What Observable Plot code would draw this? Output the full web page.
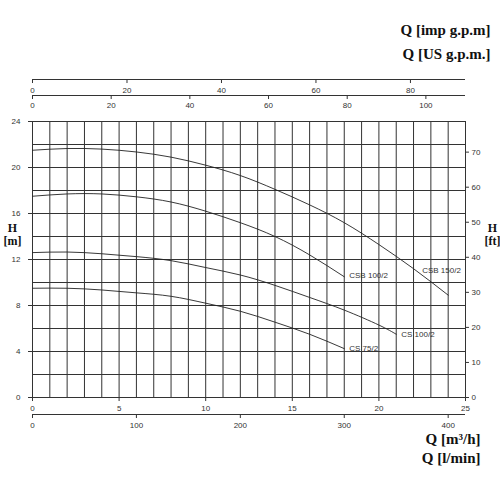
<!DOCTYPE html>
<html>
<head>
<meta charset="utf-8">
<script src="https://cdn.jsdelivr.net/npm/d3@7"></script>
<script src="https://cdn.jsdelivr.net/npm/@observablehq/plot@0.6"></script>
<style>
  html, body { margin: 0; padding: 0; background: #fff; }
</style>
</head>
<body>
<div id="chart"></div>
<script>
// ---- data (Q in m³/h, H in m) ----
const csb150Q = [0, 2, 4, 6, 8, 10, 12, 14, 16, 18, 20, 22, 24];
const csb150H = [21.5, 21.65, 21.6, 21.35, 20.9, 20.2, 19.3, 18.1, 16.75, 15.2, 13.3, 11.2, 8.9];
const csb100Q = [0, 2, 4, 6, 8, 10, 12, 14, 16, 18];
const csb100H = [17.5, 17.7, 17.7, 17.45, 17.0, 16.2, 15.2, 14.0, 12.4, 10.5];
const cs100Q = [0, 2, 4, 6, 8, 10, 12, 14, 16, 18, 20, 21];
const cs100H = [12.6, 12.65, 12.5, 12.25, 11.9, 11.3, 10.65, 9.75, 8.7, 7.6, 6.3, 5.5];
const cs75Q = [0, 2, 4, 6, 8, 10, 12, 14, 16, 18];
const cs75H = [9.5, 9.5, 9.35, 9.1, 8.8, 8.2, 7.5, 6.55, 5.5, 4.25];
const seriesNames = ["CSB 150/2", "CSB 100/2", "CS 100/2", "CS 75/2"];

// ---- ticks ----
const hTicks = [0, 4, 8, 12, 16, 20, 24];
const ftTicks = [0, 10, 20, 30, 40, 50, 60, 70];
const m3hTicks = [0, 5, 10, 15, 20, 25];
const lminTicks = [0, 100, 200, 300, 400];
const impTicks = [0, 20, 40, 60, 80];
const usTicks = [0, 20, 40, 60, 80, 100];
const gridQ = d3.range(0, 26, 1);
const gridH = d3.range(0, 25, 2);

// unit conversions
const FT_PER_M = 3.28084;
const LMIN_PER_M3H = 1000 / 60;
const IMP_PER_M3H = 219.969 / 60;
const US_PER_M3H = 264.172 / 60;

const seriesQ = [csb150Q, csb100Q, cs100Q, cs75Q];
const seriesH = [csb150H, csb100H, cs100H, cs75H];
const points = seriesNames.flatMap((name, i) =>
  seriesQ[i].map((q, j) => ({name, q, h: seriesH[i][j]})));
const ends = seriesNames.map((name, i) => ({
  name, q: seriesQ[i][seriesQ[i].length - 1], h: seriesH[i][seriesH[i].length - 1]
}));
const labelOffset = {
  "CSB 150/2": [-26, -25], "CSB 100/2": [5, -1], "CS 100/2": [5, 0], "CS 75/2": [5, 0]
};

const axisColor = "#333";
const tickFont = {fontSize: 8, fill: "#333"};
const serif = "'Liberation Serif', 'DejaVu Serif', serif";
const titleStyle = {fontFamily: serif, fontWeight: "bold", fontSize: 15, fill: "#111"};
const hStyle = {fontFamily: serif, fontWeight: "bold", fontSize: 12, fill: "#111"};

const labelMarks = ends.map(e => Plot.text([e], {
  x: "q", y: "h", text: "name", textAnchor: "start",
  dx: labelOffset[e.name][0], dy: labelOffset[e.name][1], ...tickFont
}));

const chart = Plot.plot({
  width: 500,
  height: 500,
  marginLeft: 32,
  marginRight: 35,
  marginTop: 121,
  marginBottom: 103,
  style: {fontFamily: "'Liberation Sans', Arial, sans-serif", background: "#fff"},
  x: {domain: [0, 25], axis: null},
  y: {domain: [0, 24], axis: null},
  marks: [
    // grid
    Plot.ruleX(gridQ, {x: d => d, stroke: axisColor, strokeWidth: 1}),
    Plot.ruleY(gridH, {y: d => d, stroke: axisColor, strokeWidth: 1}),
    // left H [m] axis
    Plot.ruleY(hTicks, {y: d => d, x1: -0.23, x2: 0, stroke: axisColor}),
    Plot.text(hTicks, {y: d => d, x: 0, dx: -12, textAnchor: "end", text: d => String(d), ...tickFont}),
    // right H [ft] axis
    Plot.ruleY(ftTicks, {y: d => d / FT_PER_M, x1: 25, x2: 25.23, stroke: axisColor}),
    Plot.text(ftTicks, {y: d => d / FT_PER_M, x: 25, dx: 6, textAnchor: "start", text: d => String(d), ...tickFont}),
    // bottom m³/h axis
    Plot.ruleX(m3hTicks, {x: d => d, y1: 0, y2: -0.35, stroke: axisColor}),
    Plot.text(m3hTicks, {x: d => d, y: 0, dy: 11, text: d => String(d), ...tickFont}),
    // bottom l/min axis
    Plot.ruleY([0], {y: d => d, dy: 17, stroke: axisColor, strokeWidth: 1.2}),
    Plot.ruleX(lminTicks, {x: d => d / LMIN_PER_M3H, y1: 0, y2: -0.35, dy: 17, stroke: axisColor}),
    Plot.text(lminTicks, {x: d => d / LMIN_PER_M3H, y: 0, dy: 28, text: d => String(d), ...tickFont}),
    // top imp g.p.m axis
    Plot.ruleY([24], {y: d => d, dy: -42, stroke: axisColor, strokeWidth: 1.2}),
    Plot.ruleX(impTicks, {x: d => d / IMP_PER_M3H, y1: 24, y2: 23.65, dy: -42, stroke: axisColor}),
    Plot.text(impTicks, {x: d => d / IMP_PER_M3H, y: 24, dy: -31, text: d => String(d), ...tickFont}),
    // top US g.p.m. axis
    Plot.ruleY([24], {y: d => d, dy: -26, stroke: axisColor, strokeWidth: 1.2}),
    Plot.ruleX(usTicks, {x: d => d / US_PER_M3H, y1: 24, y2: 23.65, dy: -26, stroke: axisColor}),
    Plot.text(usTicks, {x: d => d / US_PER_M3H, y: 24, dy: -16, text: d => String(d), ...tickFont}),
    // pump curves
    Plot.line(points, {x: "q", y: "h", z: "name", stroke: "#222", strokeWidth: 0.9, curve: "natural"}),
    ...labelMarks,
    // unit titles
    Plot.text(["Q [imp g.p.m]"], {frameAnchor: "top-right", dx: 25, dy: -97, textAnchor: "end", text: d => d, ...titleStyle}),
    Plot.text(["Q [US g.p.m.]"], {frameAnchor: "top-right", dx: 25, dy: -73, textAnchor: "end", text: d => d, ...titleStyle}),
    Plot.text(["Q [m³/h]"], {frameAnchor: "bottom-right", dx: 15, dy: 46, textAnchor: "end", text: d => d, ...titleStyle}),
    Plot.text(["Q [l/min]"], {frameAnchor: "bottom-right", dx: 15, dy: 65, textAnchor: "end", text: d => d, ...titleStyle}),
    Plot.text(["H"], {frameAnchor: "left", dx: -20, dy: -31, textAnchor: "middle", text: d => d, ...hStyle}),
    Plot.text(["[m]"], {frameAnchor: "left", dx: -20, dy: -18, textAnchor: "middle", text: d => d, ...hStyle}),
    Plot.text(["H"], {frameAnchor: "right", dx: 27, dy: -31, textAnchor: "middle", text: d => d, ...hStyle}),
    Plot.text(["[ft]"], {frameAnchor: "right", dx: 27, dy: -18, textAnchor: "middle", text: d => d, ...hStyle})
  ]
});

document.getElementById("chart").append(chart);
</script>
</body>
</html>
